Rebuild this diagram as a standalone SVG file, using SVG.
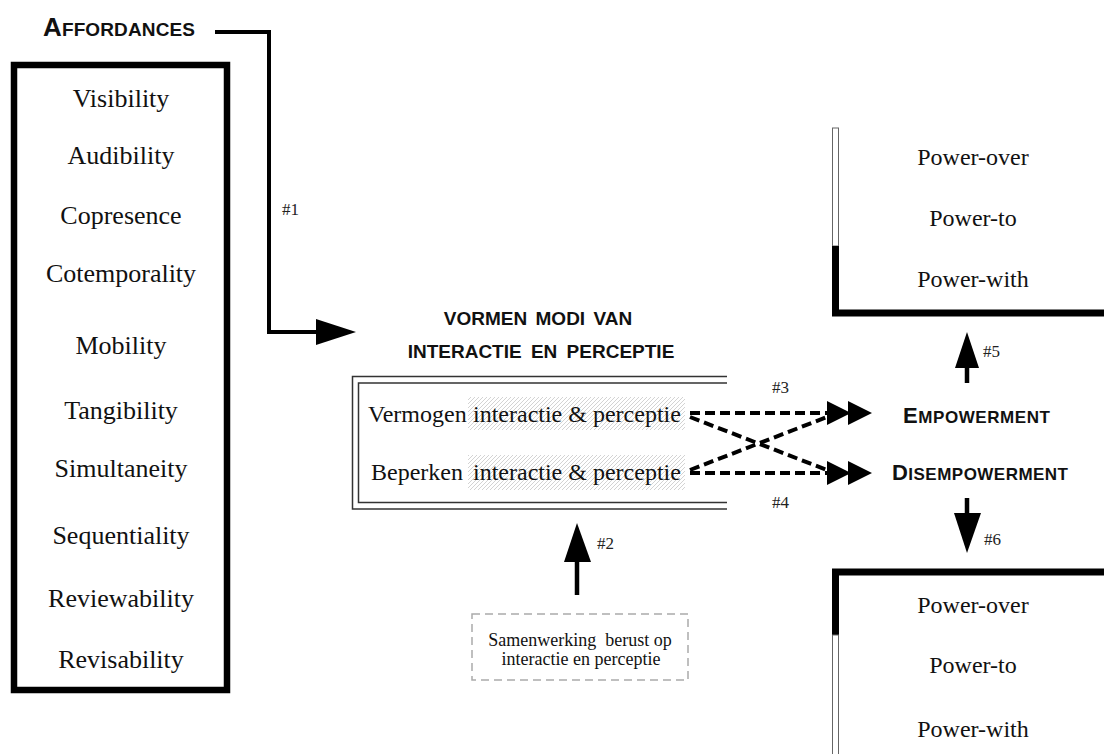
<svg xmlns="http://www.w3.org/2000/svg" width="1104" height="754" viewBox="0 0 1104 754">
<defs>
<pattern id="hatch" width="4" height="4" patternUnits="userSpaceOnUse">
<path d="M-1,1 L1,-1 M0,4 L4,0 M3,5 L5,3" stroke="#c8c8c8" stroke-width="0.8"/>
</pattern>
</defs>
<style>
.item{font-family:"Liberation Serif",serif;font-size:26px;fill:#111;text-anchor:middle}
.pw{font-family:"Liberation Serif",serif;font-size:24px;fill:#111;text-anchor:middle}
.mid{font-family:"Liberation Serif",serif;font-size:24px;fill:#111}
.num{font-family:"Liberation Serif",serif;font-size:17px;fill:#222}
.head{font-family:"Liberation Sans",Arial,sans-serif;font-weight:bold;fill:#111}
.dash{stroke:#000;stroke-width:4;stroke-dasharray:10 5;fill:none}
.thin2{fill:#fff;stroke:#666;stroke-width:1}
</style>

<g id="affordances-label">
<text class="head" x="43" y="36" textLength="152" lengthAdjust="spacing"><tspan font-size="26">A</tspan><tspan font-size="19">FFORDANCES</tspan></text>
</g>

<g id="affordances-box">
<rect x="14" y="65" width="213" height="625" fill="none" stroke="#000" stroke-width="6.5"/>
<text class="item" x="121" y="107">Visibility</text>
<text class="item" x="121" y="164">Audibility</text>
<text class="item" x="121" y="224">Copresence</text>
<text class="item" x="121" y="282">Cotemporality</text>
<text class="item" x="121" y="354">Mobility</text>
<text class="item" x="121" y="419">Tangibility</text>
<text class="item" x="121" y="477">Simultaneity</text>
<text class="item" x="121" y="544">Sequentiality</text>
<text class="item" x="121" y="607">Reviewability</text>
<text class="item" x="121" y="668">Revisability</text>
</g>

<g id="modi-title">
<text class="head" font-size="19" x="538" y="325" text-anchor="middle" word-spacing="3">VORMEN MODI VAN</text>
<text class="head" font-size="19" x="541" y="358" text-anchor="middle" word-spacing="4">INTERACTIE EN PERCEPTIE</text>
</g>

<g id="modi-box">
<path d="M727,376.5 H352.5 V509 H727" fill="none" stroke="#333" stroke-width="1.5"/>
<path d="M727,383 H358.5 V502.5 H727" fill="none" stroke="#333" stroke-width="1.5"/>
<rect x="468" y="397" width="217" height="33" fill="url(#hatch)"/>
<rect x="468" y="455" width="217" height="35" fill="url(#hatch)"/>
<text class="mid" x="368" y="422">Vermogen <tspan x="473">interactie &amp; perceptie</tspan></text>
<text class="mid" x="371" y="480">Beperken <tspan x="473">interactie &amp; perceptie</tspan></text>
</g>

<g id="samenwerking">
<rect x="472" y="614" width="216" height="66" fill="none" stroke="#aaa" stroke-width="1.5" stroke-dasharray="8 5"/>
<text x="580" y="646" font-family="'Liberation Serif',serif" font-size="18" fill="#111" text-anchor="middle" xml:space="preserve">Samenwerking  berust op</text>
<text x="581" y="665" font-family="'Liberation Serif',serif" font-size="18" fill="#111" text-anchor="middle">interactie en perceptie</text>
</g>

<g id="empowerment">
<text class="head" x="903" y="423" textLength="147" lengthAdjust="spacing"><tspan font-size="22">E</tspan><tspan font-size="17">MPOWERMENT</tspan></text>
</g>
<g id="disempowerment">
<text class="head" x="892" y="480" textLength="176" lengthAdjust="spacing"><tspan font-size="22">D</tspan><tspan font-size="17">ISEMPOWERMENT</tspan></text>
</g>

<g id="power-top">
<rect x="832.5" y="128" width="6" height="118" class="thin2"/>
<path d="M835.5,246 V313 H1104" fill="none" stroke="#000" stroke-width="7"/>
<text class="pw" x="973" y="165">Power-over</text>
<text class="pw" x="973" y="226">Power-to</text>
<text class="pw" x="973" y="287">Power-with</text>
</g>

<g id="power-bottom">
<path d="M835.5,635 V572 H1104" fill="none" stroke="#000" stroke-width="7"/>
<rect x="832.5" y="635" width="6" height="125" class="thin2"/>
<text class="pw" x="973" y="613">Power-over</text>
<text class="pw" x="973" y="673">Power-to</text>
<text class="pw" x="973" y="737">Power-with</text>
</g>

<g id="connectors">
<path d="M215,32 H269 V332 H318" fill="none" stroke="#000" stroke-width="4"/>
<path d="M316,319 L356,332 L316,345 Z" fill="#000"/>
<text class="num" x="282" y="215">#1</text>

<line x1="577" y1="560" x2="577" y2="595" stroke="#000" stroke-width="4.5"/>
<path d="M577,523 L591,562 L564,562 Z" fill="#000"/>
<text class="num" x="597" y="549">#2</text>

<line x1="690" y1="413" x2="827" y2="413" class="dash"/>
<line x1="690" y1="473" x2="827" y2="473" class="dash"/>
<line x1="690" y1="417" x2="827" y2="470" class="dash"/>
<line x1="690" y1="470" x2="827" y2="417" class="dash"/>
<path d="M827,461 L851,473 L827,485 Z M848,461 L872,473 L848,485 Z" fill="#000"/>
<path d="M827,401 L851,413 L827,425 Z M848,401 L872,413 L848,425 Z" fill="#000"/>
<text class="num" x="772" y="393">#3</text>
<text class="num" x="772" y="508">#4</text>

<line x1="967" y1="365" x2="967" y2="383" stroke="#000" stroke-width="4.5"/>
<path d="M967,332 L979,368 L955,368 Z" fill="#000"/>
<text class="num" x="983" y="357">#5</text>

<line x1="967" y1="498" x2="967" y2="516" stroke="#000" stroke-width="4.5"/>
<path d="M954,513 L981,513 L967,553 Z" fill="#000"/>
<text class="num" x="984" y="545">#6</text>
</g>
</svg>
